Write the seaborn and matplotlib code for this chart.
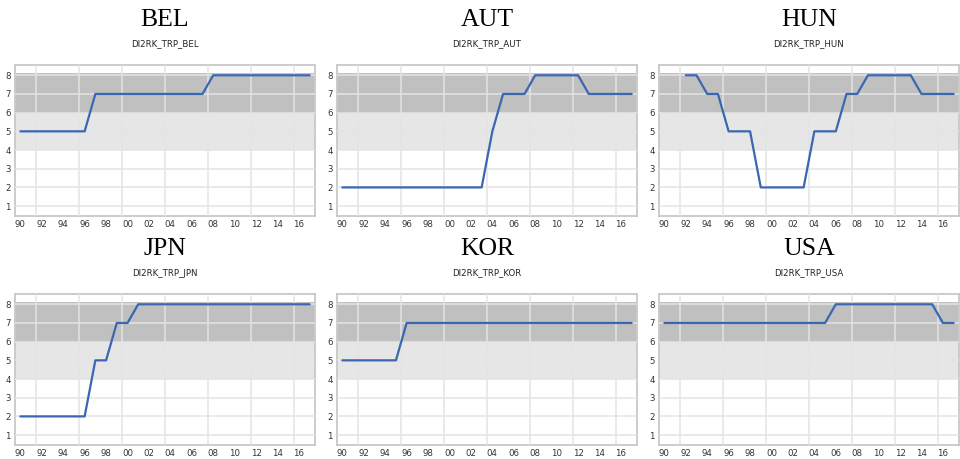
import numpy as np
import pandas as pd
import matplotlib
matplotlib.use("Agg")
import matplotlib.pyplot as plt
import seaborn as sns

years = list(range(1990, 2018))
countries = ["BEL", "AUT", "HUN", "JPN", "KOR", "USA"]

bel = [5, 5, 5, 5, 5, 5, 5, 7, 7, 7, 7, 7, 7, 7, 7, 7, 7, 7, 8, 8, 8, 8, 8, 8, 8, 8, 8, 8]
aut = [2, 2, 2, 2, 2, 2, 2, 2, 2, 2, 2, 2, 2, 2, 5, 7, 7, 7, 8, 8, 8, 8, 8, 7, 7, 7, 7, 7]
hun = [np.nan, np.nan, 8, 8, 7, 7, 5, 5, 5, 2, 2, 2, 2, 2, 5, 5, 5, 7, 7, 8, 8, 8, 8, 8, 7, 7, 7, 7]
jpn = [2, 2, 2, 2, 2, 2, 2, 5, 5, 7, 7, 8, 8, 8, 8, 8, 8, 8, 8, 8, 8, 8, 8, 8, 8, 8, 8, 8]
kor = [5, 5, 5, 5, 5, 5, 7, 7, 7, 7, 7, 7, 7, 7, 7, 7, 7, 7, 7, 7, 7, 7, 7, 7, 7, 7, 7, 7]
usa = [7, 7, 7, 7, 7, 7, 7, 7, 7, 7, 7, 7, 7, 7, 7, 7, 8, 8, 8, 8, 8, 8, 8, 8, 8, 8, 7, 7]
series = [bel, aut, hun, jpn, kor, usa]

xtick_years = list(range(1990, 2017, 2))
xtick_labels = [f"{y % 100:02d}" for y in xtick_years]
ytick_values = [1, 2, 3, 4, 5, 6, 7, 8]

df = pd.DataFrame({
    "year": years * len(countries),
    "value": [v for s in series for v in s],
    "country": [c for c in countries for _ in years],
})

sns.set_theme(style="white")
plt.rcParams["font.family"] = ["DejaVu Sans"]

fig = plt.figure(figsize=(9.6, 4.59), dpi=100)

W, H = 960, 459
lefts = [15, 337, 659]
tops = [65, 294]
aw, ah = 300, 151

for i, c in enumerate(countries):
    r, k = divmod(i, 3)
    l = lefts[k]
    t = tops[r]
    ax = fig.add_axes([l / W, 1 - (t + ah) / H, aw / W, ah / H])
    ax.axhspan(4, 6, color="#e6e6e6", lw=0, zorder=0)
    ax.axhspan(6, 8.12, color="#c0c0c0", lw=0, zorder=0)
    sub = df[df["country"] == c]
    sns.lineplot(data=sub, x="year", y="value", ax=ax, color="#3a67b2",
                 linewidth=1.6, zorder=3, legend=False)
    ax.set_xlim(1989.5, 2017.5)
    ax.set_ylim(0.47, 8.55)
    ax.set_xticks(xtick_years)
    ax.set_xticklabels(xtick_labels)
    ax.set_xticks(np.arange(1991.5, 2017, 4), minor=True)
    ax.set_yticks(ytick_values)
    ax.set_yticklabels([str(v) for v in ytick_values])
    ax.set_axisbelow(False)
    ax.grid(False)
    ax.grid(True, axis="x", which="minor", color="#e4e4e4", lw=1.1)
    ax.grid(True, axis="y", which="major", color="#e4e4e4", lw=1.1)
    ax.tick_params(axis="both", which="both", length=0, labelsize=6.2,
                   labelcolor="#333333", pad=3)
    ax.set_xlabel("")
    ax.set_ylabel("")
    for s in ax.spines.values():
        s.set_color("#c8c8c8")
        s.set_linewidth(1.3)
    cx = (l + aw / 2) / W
    ty = 1 - (t - 45) / H
    sy = 1 - (t - 21) / H
    fig.text(cx, ty, c, ha="center", va="center", fontsize=18.5,
             family="Liberation Serif", color="black")
    fig.text(cx, sy, f"DI2RK_TRP_{c}", ha="center", va="center", fontsize=6.2,
             color="#222222")

fig.savefig("out.png", dpi=100)
